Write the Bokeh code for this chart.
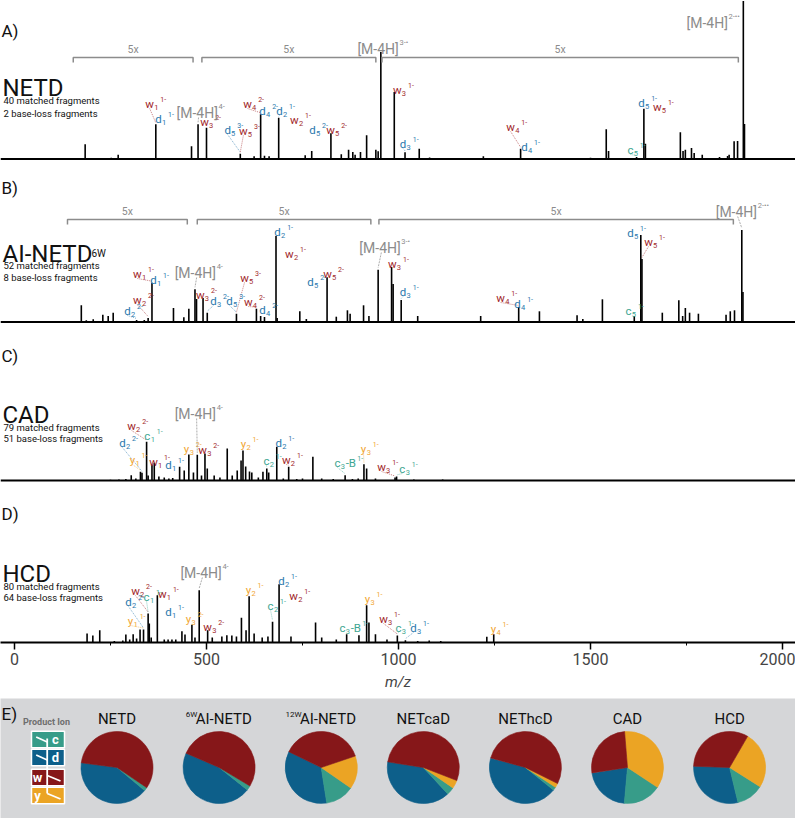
import numpy as np
from bokeh.plotting import figure
from bokeh.models import Range1d, ColumnDataSource, Span, Label, SingleIntervalTicker
from bokeh.layouts import column
from bokeh.core.properties import value
from bokeh.embed import file_html
from bokeh.resources import INLINE

FONT = "Roboto"

# ---------------- DATA ----------------
# Panel A: NETD
A_mz = [184, 252, 270, 368, 461, 478, 500, 588, 624, 641, 651, 663, 688, 757, 774, 824, 851, 870, 881, 887,
        901, 917, 941, 947, 954, 989, 1017, 1054, 1081, 1221, 1318, 1500, 1541, 1547, 1620, 1639, 1643, 1734,
        1741, 1747, 1763, 1770, 1791, 1836, 1857, 1861, 1874, 1883, 1898, 1901]
A_int = [14.7, 1.3, 4.3, 34.7, 12.7, 34.7, 31.3, 5.3, 2.7, 44.7, 3.3, 2.7, 41.3, 3.7, 8, 25.7, 4.7, 9.3, 7, 4.3,
         7, 23.7, 9.3, 7.7, 107, 67, 6.7, 10.3, 1.5, 2.7, 10.3, 1.2, 29.7, 8, 2, 50.3, 15.3, 26.7,
         8, 9.3, 11, 6, 4.3, 2, 3, 4.3, 17.7, 18, 158, 35]
A_frag_ion = ["w", "d", "w", "d", "w", "w", "d", "d", "w", "d", "w", "w", "d", "w", "d", "c", "d", "w"]
A_frag_sub = ["1", "1", "3", "5", "5", "4", "4", "2", "2", "5", "5", "3", "3", "4", "4", "5", "5", "5"]
A_frag_sup = ["1-", "1-", "2-", "3-", "3-", "2-", "2-", "1-", "1-", "2-", "2-", "1-", "1-", "1-", "1-", "1-", "1-", "1-"]
A_frag_mz = [352, 375, 495, 555, 596, 607, 646, 690, 729, 776, 823, 997, 1012, 1292, 1328, 1604, 1633, 1674]
A_frag_y = [58.5, 43.5, 40.5, 32.5, 31.5, 58.5, 51.5, 51.5, 42.5, 32.5, 32.5, 72.5, 18.5, 35.5, 15.5, 12.5, 59.5, 55.5]
A_frag_peak = [368, 368, 500, 588, 588, 641, 641, 688, 688, 824, 824, 989, 1017, 1318, 1318, 1620, 1639, 1639]
A_prec_sup = ["4-", "3-•", "2-••"]
A_prec_mz = [422, 893, 1750]
A_prec_y = [51.5, 115.5, 141.5]
A_prec_peak = [478, 954, 1898]
A_zoom_lo = [153, 488, 957]
A_zoom_hi = [465, 941, 1885]

# Panel B: AI-NETD 6W
B_mz = [174, 187, 205, 230, 244, 257, 318, 338, 348, 358, 414, 441, 454, 470, 474, 491, 502, 578, 630, 641,
        651, 681, 684, 743, 760, 814, 838, 867, 874, 909, 923, 947, 982, 986, 1007, 1050, 1214, 1313, 1367,
        1465, 1480, 1531, 1614, 1631, 1634, 1687, 1730, 1740, 1747, 1758, 1781, 1853, 1864, 1875, 1894, 1897]
B_int = [16.7, 1.7, 2.7, 7.3, 6, 9.3, 2, 2, 4, 39.3, 14, 4.7, 13.3, 32.7, 23, 24, 9.3, 8.3, 13.3, 6,
         5, 86, 4, 10.7, 3, 44.7, 5.3, 11.7, 8.3, 16.7, 6, 52.3, 55, 38, 22, 6, 6, 15, 10.7,
         6.7, 3, 22.7, 6, 87, 63, 9.3, 21.7, 6, 14, 9.3, 8.3, 7.3, 10.7, 11.7, 92, 30]
B_frag_ion = ["d", "w", "w", "d", "w", "d", "d", "w", "w", "d", "d", "w", "d", "w", "w", "d", "w", "d", "c", "d", "w"]
B_frag_sub = ["2", "2", "1", "1", "3", "3", "5", "5", "4", "4", "2", "2", "5", "5", "3", "3", "4", "4", "5", "5", "5"]
B_frag_sup = ["2-", "2-", "1-", "1-", "2-", "2-", "3-", "3-", "2-", "2-", "1-", "1-", "2-", "2-", "1-", "1-", "1-", "1-", "1-", "1-", "1-"]
B_frag_mz = [294, 320, 320, 362, 484, 518, 560, 599, 609, 646, 685, 716, 771, 815, 984, 1012, 1266, 1310, 1599, 1604, 1651]
B_frag_y = [14.5, 25.5, 51.5, 45.5, 30.5, 24.5, 24.5, 47.5, 23.5, 15.5, 93.5, 71.5, 43.5, 51.5, 61.5, 33.5, 27.5, 21.5, 14.5, 92.5, 83.5]
B_frag_peak = [318, 348, 358, 358, 491, 502, 578, 578, 630, 641, 681, 681, 814, 814, 982, 1007, 1313, 1313, 1614, 1631, 1634]
B_prec_sup = ["4-", "3-•", "2-••"]
B_prec_mz = [417, 898, 1826]
B_prec_y = [54.5, 79.5, 115.5]
B_prec_peak = [470, 947, 1894]
B_zoom_lo = [138, 476, 949]
B_zoom_hi = [450, 928, 1872]

# Panel C: CAD
C_mz = [250, 272, 290, 304, 316, 328, 332, 344, 348, 358, 364, 376, 390, 402, 412, 430, 442, 454, 466, 476,
        487, 496, 502, 520, 535, 554, 567, 580, 590, 595, 602, 612, 618, 635, 647, 657, 662, 683, 700, 714,
        735, 750, 777, 800, 830, 861, 880, 895, 910, 917, 940, 991, 995, 1040, 1115]
C_int = [0.8, 1, 1.5, 5.3, 2, 8.7, 7.7, 38.7, 5, 16, 17.7, 4, 3, 2, 2.5, 13.7, 10, 26, 8, 25.7,
         5, 27, 12, 5, 3, 32, 5, 10, 20, 30, 14, 9, 8, 3, 8.7, 12, 8, 33.7, 2, 13.7,
         1.5, 2, 23.7, 2, 1.5, 5.3, 1.5, 2, 16.3, 12, 2, 3, 4, 1, 1]
C_frag_ion = ["w", "c", "d", "y", "w", "d", "y", "w", "y", "d", "c", "w", "c", "y", "w", "c"]
C_frag_sub = ["2", "1", "2", "1", "1", "1", "3", "3", "2", "2", "2", "2", "3", "3", "3", "3"]
C_frag_suffix = ["", "", "", "", "", "", "", "", "", "", "", "", "-B", "", "", ""]
C_frag_sup = ["2-", "1-", "2-", "1-", "1-", "1-", "2-", "2-", "1-", "1-", "1-", "1-", "1-", "1-", "1-", "1-"]
C_frag_mz = [305, 346, 281, 307, 362, 401, 448, 490, 596, 688, 656, 708, 841, 909, 956, 1010]
C_frag_y = [58, 48, 41, 24, 22, 19, 35, 34, 40, 41, 23, 24, 21, 35, 17, 15]
C_frag_peak = [344, 344, 332, 328, 364, 364, 476, 496, 595, 683, 657, 714, 861, 910, 991, 995]
C_prec_sup = ["4-"]
C_prec_mz = [417]
C_prec_y = [72]
C_prec_peak = [476]

# Panel D: HCD
D_mz = [189, 204, 222, 260, 282, 290, 300, 309, 318, 327, 336, 348, 351, 356, 372, 390, 400, 410, 420, 436,
        444, 462, 470, 481, 503, 515, 540, 553, 566, 578, 591, 603, 611, 624, 645, 660, 672, 689, 720, 784,
        800, 838, 865, 897, 917, 923, 940, 970, 997, 1018, 1050, 1080, 1110, 1230, 1248]
D_int = [9, 7, 12.3, 1.5, 2, 8, 3, 8.3, 4, 13, 13, 29, 19, 5, 47.3, 3, 3, 3, 3, 11.3,
         8, 17.7, 5, 52.3, 12.3, 5, 6, 7.3, 7, 6, 24.7, 12.3, 46.3, 9, 5, 6, 20.7, 58.3, 6, 20,
         5, 3, 8.3, 7.3, 37.3, 20, 8.3, 3, 7, 2.3, 1.5, 2, 1.5, 5.7, 8.3]
D_frag_ion = ["w", "c", "w", "d", "d", "y", "y", "w", "y", "d", "c", "w", "c", "y", "w", "c", "d", "y"]
D_frag_sub = ["2", "1", "1", "2", "1", "1", "3", "3", "2", "2", "2", "2", "3", "3", "3", "3", "3", "4"]
D_frag_suffix = ["", "", "", "", "", "", "", "", "", "", "", "", "-B", "", "", "", "", ""]
D_frag_sup = ["2-", "1-", "1-", "2-", "1-", "1-", "2-", "2-", "1-", "1-", "1-", "1-", "1-", "1-", "1-", "1-", "1-", "1-"]
D_frag_mz = [315, 344, 385, 297, 401, 302, 453, 503, 609, 695, 667, 727, 854, 919, 961, 1000, 1039, 1247]
D_frag_y = [55, 49, 52, 44, 34, 25, 27, 19, 56, 65, 40, 50, 18, 47, 27, 18, 18, 17]
D_frag_peak = [348, 348, 372, 336, 372, 336, 462, 503, 611, 689, 672, 689, 865, 917, 997, 997, 1018, 1248]
D_prec_sup = ["4-"]
D_prec_mz = [432]
D_prec_y = [75]
D_prec_peak = [481]

# Panel E: product-ion distribution (%)
methods = ["NETD", "AI-NETD", "AI-NETD", "NETcaD", "NEThcD", "CAD", "HCD"]
method_prefix = ["", "6W", "12W", "", "", "", ""]
frac_c = [1.6, 2.1, 12.9, 3.5, 1.5, 17.1, 12.3]
frac_d = [41.0, 45.8, 34.7, 39.4, 43.4, 21.1, 29.3]
frac_w = [57.4, 52.1, 37.6, 53.4, 53.1, 26.1, 32.8]
frac_y = [0.0, 0.0, 14.8, 3.7, 1.9, 35.6, 25.6]
pie_start_deg = [172.5, 156.6, 154, 171, 165, 189, 178]

# ---------------- STYLE ----------------
LAB_COL = {"w": "#a2292c", "d": "#2a78ad", "c": "#3ea692", "y": "#f1a634"}
PIE_COL = {"w": "#861719", "d": "#0d5f8a", "c": "#379c89", "y": "#eba424"}
GRAY = "#8c8c8c"
HALF_W = {"w": 4.2, "d": 3.2, "c": 3.0, "y": 2.8}
SUB_W = 4.4
SUFFIX_W = {"": 0.0, "-B": 10.4}
INK = "#111111"

W = 795
PX = 0.384  # px per m/z unit
X0 = -14 / PX
xr = Range1d(X0, X0 + W / PX)


def base_fig(h, y0, y1, axis=False):
    p = figure(width=W, height=h, x_range=xr, y_range=Range1d(y0, y1),
               output_backend="svg", toolbar_location=None, min_border=0,
               x_axis_location="below" if axis else None, y_axis_location=None)
    p.outline_line_color = None
    p.grid.visible = False
    p.background_fill_color = "white"
    p.border_fill_color = "white"
    return p


def draw_spectrum(p, mz, inten, baseline=True):
    p.segment(x0=mz, y0=[0] * len(mz), x1=mz, y1=inten, line_color="black", line_width=1.6)
    if baseline:
        p.add_layout(Span(location=0, dimension="width", line_color="black", line_width=2))


def peak_top(peak, mz, inten):
    arr = np.array(mz)
    return inten[int(np.argmin(np.abs(arr - peak)))]


def draw_fragments(p, ions, subs, sups, lmz, ly, peaks, mz, inten, suffixes=None):
    n = len(ions)
    if suffixes is None:
        suffixes = [""] * n
    cols = [LAB_COL[i] for i in ions]
    hw = [HALF_W[i] for i in ions]
    lx0, ly0, lx1, ly1, lc = [], [], [], [], []
    for k in range(n):
        top = peak_top(peaks[k], mz, inten)
        ys = ly[k] - 8
        if ys > top + 2:
            lx0.append(lmz[k]); ly0.append(ys); lx1.append(peaks[k]); ly1.append(top + 1.5); lc.append(cols[k])
    p.segment(x0=lx0, y0=ly0, x1=lx1, y1=ly1, line_color=lc, line_width=0.8, line_alpha=0.75, line_dash="1 1")
    src_main = ColumnDataSource(dict(x=lmz, y=[v - 3 for v in ly], t=ions, c=cols))
    p.text(x="x", y="y", text="t", text_color="c", source=src_main, text_font=value(FONT),
           text_font_size=value("11.5px"), text_align="center", text_baseline="alphabetic")
    src_sub = ColumnDataSource(dict(x=lmz, y=[v - 6.5 for v in ly], t=subs, c=cols, o=[h + 0.3 for h in hw]))
    p.text(x="x", y="y", text="t", text_color="c", source=src_sub, text_font=value(FONT),
           text_font_size=value("7.5px"), text_align="left", text_baseline="alphabetic", x_offset="o")
    sfx_x, sfx_y, sfx_t, sfx_c, sfx_o = [], [], [], [], []
    for k in range(n):
        if suffixes[k]:
            sfx_x.append(lmz[k]); sfx_y.append(ly[k] - 3); sfx_t.append(suffixes[k])
            sfx_c.append(cols[k]); sfx_o.append(hw[k] + SUB_W + 0.8)
    if sfx_x:
        src_sfx = ColumnDataSource(dict(x=sfx_x, y=sfx_y, t=sfx_t, c=sfx_c, o=sfx_o))
        p.text(x="x", y="y", text="t", text_color="c", source=src_sfx, text_font=value(FONT),
               text_font_size=value("11.5px"), text_align="left", text_baseline="alphabetic", x_offset="o")
    src_sup = ColumnDataSource(dict(x=lmz, y=[v + 1 for v in ly], t=sups, c=cols,
                                    o=[hw[k] + SUB_W + SUFFIX_W[suffixes[k]] + 2.0 for k in range(n)]))
    p.text(x="x", y="y", text="t", text_color="c", source=src_sup, text_font=value(FONT),
           text_font_size=value("7px"), text_align="left", text_baseline="alphabetic", x_offset="o")


def draw_precursors(p, sups, lmz, ly, peaks, mz, inten):
    n = len(sups)
    lx0, ly0, lx1, ly1 = [], [], [], []
    for k in range(n):
        top = peak_top(peaks[k], mz, inten)
        xs = lmz[k] + 22 / PX
        ys = ly[k] - 10
        if ys > top + 2:
            lx0.append(xs); ly0.append(ys); lx1.append(peaks[k]); ly1.append(top + 2)
    p.segment(x0=lx0, y0=ly0, x1=lx1, y1=ly1, line_color=GRAY, line_width=0.9, line_alpha=0.8, line_dash="2 1")
    src = ColumnDataSource(dict(x=lmz, y=[v - 5.5 for v in ly], t=["[M-4H]"] * n))
    p.text(x="x", y="y", text="t", source=src, text_color=GRAY, text_font=value(FONT),
           text_font_size=value("14px"), text_align="left", text_baseline="alphabetic")
    src2 = ColumnDataSource(dict(x=lmz, y=[v + 1.5 for v in ly], t=sups))
    p.text(x="x", y="y", text="t", source=src2, text_color=GRAY, text_font=value(FONT),
           text_font_size=value("7.5px"), text_align="left", text_baseline="alphabetic", x_offset=42)


def draw_zoom_brackets(p, lo, hi, yb):
    xs = [[a, a, b, b] for a, b in zip(lo, hi)]
    ys = [[yb - 5, yb, yb, yb - 5] for _ in lo]
    p.multi_line(xs=xs, ys=ys, line_color=GRAY, line_width=1.5)
    p.text(x=[(a + b) / 2 for a, b in zip(lo, hi)], y=[yb + 8] * len(lo), text=["5x"] * len(lo),
           text_color=GRAY, text_font=value(FONT), text_font_size=value("10.5px"),
           text_align="center", text_baseline="middle")


def titles(p, letter, ly, name, name_y, l1, l2, y1, y2, name_sub=None):
    p.add_layout(Label(x=X0, y=ly, text=letter, text_font=FONT, text_font_size="17px",
                       text_baseline="middle", text_color=INK, x_offset=1))
    p.add_layout(Label(x=X0, y=name_y, text=name, text_font=FONT, text_font_size="24px",
                       text_baseline="alphabetic", text_color=INK, x_offset=2))
    if name_sub:
        p.add_layout(Label(x=X0, y=name_y, text=name_sub, text_font=FONT, text_font_size="10px",
                           text_baseline="alphabetic", text_color=INK, x_offset=91))
    for t, yy in ((l1, y1), (l2, y2)):
        p.add_layout(Label(x=X0, y=yy, text=t, text_font=FONT, text_font_size="9.5px",
                           text_baseline="middle", text_color=INK, x_offset=3))


# Panel A
pA = base_fig(168, -9.5, 158.5)
draw_spectrum(pA, A_mz, A_int)
draw_zoom_brackets(pA, A_zoom_lo, A_zoom_hi, 101.5)
draw_fragments(pA, A_frag_ion, A_frag_sub, A_frag_sup, A_frag_mz, A_frag_y, A_frag_peak, A_mz, A_int)
draw_precursors(pA, A_prec_sup, A_prec_mz, A_prec_y, A_prec_peak, A_mz, A_int)
titles(pA, "A)", 128.5, "NETD", 71.5, "40 matched fragments", "2 base-loss fragments", 58.5, 45.5)

# Panel B
pB = base_fig(162, -8.5, 153.5)
draw_spectrum(pB, B_mz, B_int)
draw_zoom_brackets(pB, B_zoom_lo, B_zoom_hi, 102.5)
draw_fragments(pB, B_frag_ion, B_frag_sub, B_frag_sup, B_frag_mz, B_frag_y, B_frag_peak, B_mz, B_int)
draw_precursors(pB, B_prec_sup, B_prec_mz, B_prec_y, B_prec_peak, B_mz, B_int)
titles(pB, "B)", 134.5, "AI-NETD", 68.5, "52 matched fragments", "8 base-loss fragments", 56.5, 44.5,
       name_sub="6W")

# Panel C
pC = base_fig(158, -8, 150)
draw_spectrum(pC, C_mz, C_int)
draw_fragments(pC, C_frag_ion, C_frag_sub, C_frag_sup, C_frag_mz, C_frag_y, C_frag_peak, C_mz, C_int,
               suffixes=C_frag_suffix)
draw_precursors(pC, C_prec_sup, C_prec_mz, C_prec_y, C_prec_peak, C_mz, C_int)
titles(pC, "C)", 125, "CAD", 66, "79 matched fragments", "51 base-loss fragments", 53, 42)

# Panel D (with m/z axis)
pD = base_fig(210, 0, 154, axis=True)
pD.min_border_bottom = 56
draw_spectrum(pD, D_mz, D_int, baseline=False)
draw_fragments(pD, D_frag_ion, D_frag_sub, D_frag_sup, D_frag_mz, D_frag_y, D_frag_peak, D_mz, D_int,
               suffixes=D_frag_suffix)
draw_precursors(pD, D_prec_sup, D_prec_mz, D_prec_y, D_prec_peak, D_mz, D_int)
titles(pD, "D)", 129, "HCD", 69, "80 matched fragments", "64 base-loss fragments", 56, 45)
ax = pD.xaxis[0]
ax.ticker = SingleIntervalTicker(interval=500, num_minor_ticks=2)
ax.axis_line_width = 2
ax.major_tick_line_width = 1.5
ax.major_tick_in = 0
ax.major_tick_out = 7
ax.minor_tick_in = 0
ax.minor_tick_out = 3
ax.major_label_text_font = FONT
ax.major_label_text_font_size = "16px"
ax.major_label_standoff = 3
ax.axis_label = "m/z"
ax.axis_label_text_font = FONT
ax.axis_label_text_font_style = "italic"
ax.axis_label_text_font_size = "15px"
ax.axis_label_standoff = 5

# Panel E (pies)
E_BG = "#d5d6d8"
EH = 120
pE = figure(width=W, height=EH, x_range=Range1d(0, W), y_range=Range1d(0, EH),
            output_backend="svg", toolbar_location=None, min_border=0,
            x_axis_location=None, y_axis_location=None)
pE.outline_line_color = None
pE.grid.visible = False
pE.background_fill_color = E_BG
pE.border_fill_color = E_BG

pie_x = [116.5 + 102.1 * i for i in range(len(methods))]
pie_y = 51
wx, wy, wa0, wa1, wc = [], [], [], [], []
for i in range(len(methods)):
    a = pie_start_deg[i]
    for key, fr in (("d", frac_d[i]), ("c", frac_c[i]), ("y", frac_y[i]), ("w", frac_w[i])):
        if fr <= 0:
            continue
        wx.append(pie_x[i]); wy.append(pie_y)
        wa0.append(np.radians(a)); wa1.append(np.radians(a + fr * 3.6)); wc.append(PIE_COL[key])
        a += fr * 3.6
pE.wedge(x=wx, y=wy, radius=36, radius_units="screen", start_angle=wa0, end_angle=wa1,
         direction="anticlock", fill_color=wc, line_color=wc, line_width=0.6)

# pie titles
t_main_off, t_sup_x, t_sup_off, t_sup = [], [], [], []
for i, (m, pre) in enumerate(zip(methods, method_prefix)):
    if pre:
        pre_w = 4.2 * len(pre)
        t_main_off.append(pre_w / 2 + 0.5)
        t_sup_x.append(pie_x[i]); t_sup_off.append(pre_w / 2 - 26); t_sup.append(pre)
    else:
        t_main_off.append(0)
src_t = ColumnDataSource(dict(x=pie_x, y=[EH - 20] * len(methods), t=methods, o=t_main_off))
pE.text(x="x", y="y", text="t", source=src_t, x_offset="o", text_font=value(FONT),
        text_font_size=value("15px"), text_align="center", text_baseline="middle", text_color=INK)
src_s = ColumnDataSource(dict(x=t_sup_x, y=[EH - 16] * len(t_sup), t=t_sup, o=t_sup_off))
pE.text(x="x", y="y", text="t", source=src_s, x_offset="o", text_font=value(FONT),
        text_font_size=value("8px"), text_align="right", text_baseline="middle", text_color=INK)

# legend
pE.add_layout(Label(x=0, y=EH - 15, text="E)", text_font=FONT, text_font_size="17px",
                    text_baseline="middle", text_color=INK, x_offset=1))
pE.add_layout(Label(x=46, y=EH - 23, text="Product Ion", text_font=FONT, text_font_size="9px",
                    text_font_style="bold", text_baseline="middle", text_align="center", text_color="#6e6e6e"))
leg_keys = ["c", "d", "w", "y"]
leg_y = [79, 61, 41, 23]
pE.rect(x=[47.5] * 4, y=leg_y, width=33, height=16.5, fill_color=[PIE_COL[k] for k in leg_keys],
        line_color="white", line_width=1.5)
pE.segment(x0=[46.7, 35.7, 35.7, 46.7, 46.7], y0=[80, 81.5, 63.5, 43, 25],
           x1=[46.7, 46.7, 46.7, 60, 60], y1=[25, 76.5, 58.5, 37.5, 19.5],
           line_color="white", line_width=1.8)
pE.text(x=[55, 55, 37, 37], y=leg_y, text=leg_keys, text_color="white", text_font=value(FONT),
        text_font_size=value("13px"), text_font_style="bold", text_align="center", text_baseline="middle")

layout = column(pA, pB, pC, pD, pE, spacing=0)
open("out.html", "w").write(file_html(layout, INLINE))
